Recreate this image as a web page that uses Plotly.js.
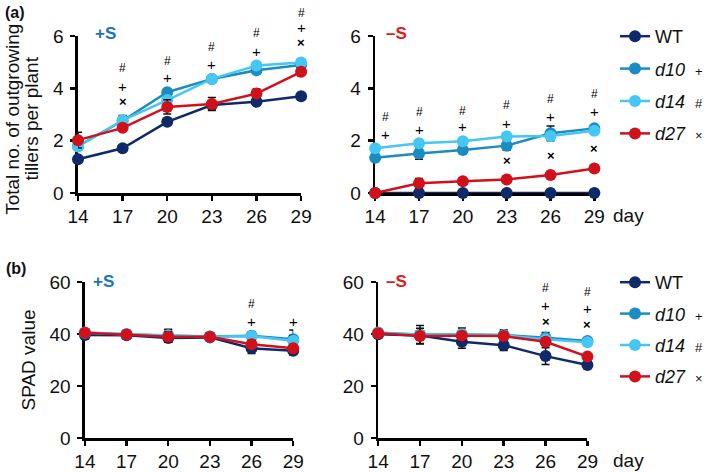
<!DOCTYPE html>
<html>
<head>
<meta charset="utf-8">
<script src="https://cdn.plot.ly/plotly-3.0.1.min.js"></script>
<style>html,body{margin:0;padding:0;background:#fff;}#chart{width:709px;height:472px;}</style>
</head>
<body>
<div id="chart"></div>
<script>
// ---- data ----
const days = [14, 17, 20, 23, 26, 29];
const genotypes = ['WT', 'd10', 'd14', 'd27'];
const legendLabels = ['WT', '<i>d10</i>', '<i>d14</i>', '<i>d27</i>'];
const legendMarks = ['', '+', '#', '×'];

// (a) total no. of outgrowing tillers per plant
const tillersPlusS_WT  = [1.29, 1.71, 2.72, 3.36, 3.49, 3.70];
const tillersPlusS_d10 = [1.79, 2.76, 3.85, 4.36, 4.69, 4.89];
const tillersPlusS_d14 = [1.78, 2.78, 3.55, 4.36, 4.87, 4.99];
const tillersPlusS_d27 = [2.02, 2.49, 3.29, 3.40, 3.80, 4.63];
const tillersPlusSErr_WT  = [0.10, 0.08, 0.10, 0.10, 0.08, 0.08];
const tillersPlusSErr_d10 = [0.15, 0.20, 0.10, 0.10, 0.10, 0.10];
const tillersPlusSErr_d14 = [0.10, 0.15, 0.10, 0.08, 0.10, 0.08];
const tillersPlusSErr_d27 = [0.30, 0.10, 0.27, 0.25, 0.17, 0.16];

const tillersMinusS_WT  = [0, 0, 0, 0, 0, 0];
const tillersMinusS_d10 = [1.35, 1.51, 1.64, 1.81, 2.28, 2.47];
const tillersMinusS_d14 = [1.71, 1.90, 1.98, 2.16, 2.18, 2.38];
const tillersMinusS_d27 = [0, 0.37, 0.45, 0.52, 0.69, 0.94];
const tillersMinusSErr_WT  = [0, 0, 0, 0, 0, 0];
const tillersMinusSErr_d10 = [0.15, 0.22, 0.12, 0.18, 0.28, 0.12];
const tillersMinusSErr_d14 = [0.08, 0.12, 0.10, 0.10, 0.10, 0.10];
const tillersMinusSErr_d27 = [0.02, 0.18, 0.05, 0.05, 0.06, 0.05];

// (b) SPAD value
const spadPlusS_WT  = [39.6, 39.5, 38.5, 38.7, 34.5, 33.6];
const spadPlusS_d10 = [40.5, 39.9, 39.3, 39.0, 39.3, 38.0];
const spadPlusS_d14 = [40.6, 39.9, 39.5, 39.0, 39.1, 37.4];
const spadPlusS_d27 = [40.5, 39.8, 38.9, 38.9, 36.1, 34.5];
const spadPlusSErr_WT  = [1.5, 1.2, 1.5, 1.2, 2.0, 1.8];
const spadPlusSErr_d10 = [1.0, 1.5, 2.5, 1.5, 1.5, 3.5];
const spadPlusSErr_d14 = [1.0, 1.0, 2.0, 1.0, 1.0, 2.0];
const spadPlusSErr_d27 = [1.0, 1.0, 2.0, 1.0, 1.5, 1.5];

const spadMinusS_WT  = [39.9, 39.4, 37.0, 35.7, 31.5, 28.1];
const spadMinusS_d10 = [40.5, 39.8, 39.8, 39.6, 38.6, 37.3];
const spadMinusS_d14 = [40.6, 39.6, 39.8, 39.5, 38.0, 36.8];
const spadMinusS_d27 = [40.3, 39.2, 39.3, 39.2, 37.0, 31.3];
const spadMinusSErr_WT  = [1.5, 1.5, 2.5, 2.0, 3.2, 1.2];
const spadMinusSErr_d10 = [1.0, 3.5, 2.5, 2.0, 2.0, 1.0];
const spadMinusSErr_d14 = [1.0, 1.0, 1.5, 1.5, 1.5, 1.0];
const spadMinusSErr_d27 = [1.0, 3.0, 1.5, 1.5, 1.5, 1.0];

// significance marks: [day, value level, symbol]
const sigTillersPlusS = [
  [17, 4.77, '#'], [17, 4.08, '+'], [17, 3.51, '×'],
  [20, 5.04, '#'], [20, 4.43, '+'],
  [23, 5.57, '#'], [23, 4.92, '+'],
  [26, 6.10, '#'], [26, 5.42, '+'],
  [29, 6.87, '#'], [29, 6.33, '+'], [29, 5.76, '×']
];
const sigTillersMinusS = [
  [14.7, 2.91, '#'], [14.7, 2.25, '+'],
  [17, 3.10, '#'], [17, 2.43, '+'],
  [20, 3.14, '#'], [20, 2.53, '+'],
  [23, 3.36, '#'], [23, 2.66, '+'], [23, 1.26, '×'],
  [26, 3.58, '#'], [26, 2.91, '+'], [26, 1.45, '×'],
  [29, 3.78, '#'], [29, 3.10, '+'], [29, 1.70, '×']
];
const sigSpadPlusS = [
  [26, 51.7, '#'], [26, 44.7, '+'],
  [29, 44.7, '+']
];
const sigSpadMinusS = [
  [26, 57.7, '#'], [26, 51.1, '+'], [26, 44.7, '×'],
  [29, 56.2, '#'], [29, 49.8, '+'], [29, 43.7, '×']
];

const tillerRange = [0, 6];
const spadRange = [0, 60];
const tillerTicks = [0, 2, 4, 6];
const spadTicks = [0, 20, 40, 60];

// ---- styling ----
const colors = {WT: '#0f2a6b', d10: '#1b8cc2', d14: '#45c6f3', d27: '#d0101b'};
const FONT = 'Liberation Sans, Arial, sans-serif';
const W = 709, H = 472;
const sigStyle = {'#': {size: 12, bold: false}, '+': {size: 15, bold: false}, '×': {size: 13, bold: true}};

const panels = [
  {xa: 'x',  ya: 'y',  legend: 'legend',  show: true, range: tillerRange,
   vals: [tillersPlusS_WT, tillersPlusS_d10, tillersPlusS_d14, tillersPlusS_d27],
   errs: [tillersPlusSErr_WT, tillersPlusSErr_d10, tillersPlusSErr_d14, tillersPlusSErr_d27],
   sig: sigTillersPlusS},
  {xa: 'x2', ya: 'y2', legend: 'legend',  show: false, range: tillerRange,
   vals: [tillersMinusS_WT, tillersMinusS_d10, tillersMinusS_d14, tillersMinusS_d27],
   errs: [tillersMinusSErr_WT, tillersMinusSErr_d10, tillersMinusSErr_d14, tillersMinusSErr_d27],
   sig: sigTillersMinusS},
  {xa: 'x3', ya: 'y3', legend: 'legend2', show: true, range: spadRange,
   vals: [spadPlusS_WT, spadPlusS_d10, spadPlusS_d14, spadPlusS_d27],
   errs: [spadPlusSErr_WT, spadPlusSErr_d10, spadPlusSErr_d14, spadPlusSErr_d27],
   sig: sigSpadPlusS},
  {xa: 'x4', ya: 'y4', legend: 'legend2', show: false, range: spadRange,
   vals: [spadMinusS_WT, spadMinusS_d10, spadMinusS_d14, spadMinusS_d27],
   errs: [spadMinusSErr_WT, spadMinusSErr_d10, spadMinusSErr_d14, spadMinusSErr_d27],
   sig: sigSpadMinusS}
];

const traces = [];
const annotations = [];
panels.forEach((p) => {
  genotypes.forEach((g, gi) => {
    const mark = legendMarks[gi] ? '&nbsp;&nbsp;<span style="font-size:13px">' + legendMarks[gi] + '</span>' : '';
    traces.push({
      type: 'scatter', mode: 'lines+markers',
      x: days, y: p.vals[gi],
      xaxis: p.xa, yaxis: p.ya,
      name: legendLabels[gi] + mark,
      legend: p.legend,
      legendgroup: p.legend + g,
      showlegend: p.show,
      cliponaxis: false,
      line: {color: colors[g], width: 2.5},
      marker: {color: colors[g], size: 12},
      error_y: {type: 'data', array: p.errs[gi], visible: true, color: '#111', thickness: 1.5, width: 4}
    });
  });
  // significance symbols: y given relative to the axis domain so marks above the range still show
  p.sig.forEach(s => {
    const st = sigStyle[s[2]];
    annotations.push({
      xref: p.xa, yref: p.ya + ' domain', x: s[0],
      y: (s[1] - p.range[0]) / (p.range[1] - p.range[0]),
      xanchor: 'center', yanchor: 'middle', showarrow: false,
      text: st.bold ? '<b>' + s[2] + '</b>' : s[2],
      font: {family: FONT, size: st.size, color: '#000'}
    });
  });
});

// panel labels / condition labels / day labels / top y title lines
const textLabels = [
  {x: 15, y: 12, text: '<b>(a)</b>', color: '#111', size: 16, angle: 0},
  {x: 16, y: 268, text: '<b>(b)</b>', color: '#111', size: 16, angle: 0},
  {x: 107, y: 33, text: '<b>+S</b>', color: '#1a74bb', size: 17, angle: 0},
  {x: 402, y: 33, text: '<b>–S</b>', color: '#e3191c', size: 17, angle: 0},
  {x: 105, y: 281, text: '<b>+S</b>', color: '#1a74bb', size: 17, angle: 0},
  {x: 402, y: 281, text: '<b>–S</b>', color: '#e3191c', size: 17, angle: 0},
  {x: 637, y: 215, text: 'day', color: '#111', size: 19, angle: 0},
  {x: 637, y: 460, text: 'day', color: '#111', size: 19, angle: 0},
  {x: 12, y: 119, text: 'Total no. of outgrowing', color: '#111', size: 19, angle: -90},
  {x: 31, y: 119, text: 'tillers per plant', color: '#111', size: 19, angle: -90}
];
textLabels.forEach(t => annotations.push({
  xref: 'paper', yref: 'paper', x: t.x / W, y: 1 - t.y / H, xanchor: 'center', yanchor: 'middle',
  text: t.text, showarrow: false, textangle: t.angle, font: {family: FONT, size: t.size, color: t.color}
}));

function xAxis(d0, d1) {
  return {
    domain: [d0 / W, d1 / W], range: [14, 29], tickvals: days, ticktext: days.map(String),
    showline: true, linecolor: '#000', linewidth: 2.5, ticks: 'outside', ticklen: 5, tickwidth: 2.5,
    tickcolor: '#000', showgrid: false, zeroline: false, fixedrange: true, layer: 'below traces',
    tickfont: {family: FONT, size: 19, color: '#111'}
  };
}
function yAxis(top, bottom, range, ticks, anchor, title) {
  const ax = {
    domain: [1 - bottom / H, 1 - top / H], range: range, tickvals: ticks, ticktext: ticks.map(String),
    showline: true, linecolor: '#000', linewidth: 2.5, ticks: 'outside', ticklen: 5, tickwidth: 2.5,
    tickcolor: '#000', showgrid: false, zeroline: false, fixedrange: true, anchor: anchor,
    ticklabelstandoff: 3,
    layer: 'below traces', tickfont: {family: FONT, size: 19, color: '#111'}
  };
  if (title) ax.title = {text: title, font: {family: FONT, size: 19, color: '#111'}};
  return ax;
}

const layout = {
  width: W, height: H, margin: {l: 0, r: 0, t: 0, b: 0},
  paper_bgcolor: '#fff', plot_bgcolor: '#fff',
  font: {family: FONT, size: 18, color: '#111'},
  xaxis:  Object.assign(xAxis(79, 305),  {anchor: 'y'}),
  xaxis2: Object.assign(xAxis(380, 602), {anchor: 'y2'}),
  xaxis3: Object.assign(xAxis(86, 297),  {anchor: 'y3'}),
  xaxis4: Object.assign(xAxis(383, 595), {anchor: 'y4'}),
  yaxis:  yAxis(36, 193, tillerRange, tillerTicks, 'x', null),
  yaxis2: yAxis(36, 193, tillerRange, tillerTicks, 'x2', null),
  yaxis3: yAxis(282, 438, spadRange, spadTicks, 'x3', 'SPAD value'),
  yaxis4: yAxis(282, 438, spadRange, spadTicks, 'x4', null),
  legend: {x: 623 / W, y: 1 - 18 / H, xanchor: 'left', yanchor: 'top', bgcolor: 'rgba(0,0,0,0)',
           font: {family: FONT, size: 18, color: '#111'}, tracegroupgap: 6, traceorder: 'grouped'},
  legend2: {x: 623 / W, y: 1 - 264 / H, xanchor: 'left', yanchor: 'top', bgcolor: 'rgba(0,0,0,0)',
           font: {family: FONT, size: 18, color: '#111'}, tracegroupgap: 5, traceorder: 'grouped'},
  annotations: annotations,
  showlegend: true
};

Plotly.newPlot('chart', traces, layout, {displayModeBar: false, staticPlot: true});
</script>
</body>
</html>
